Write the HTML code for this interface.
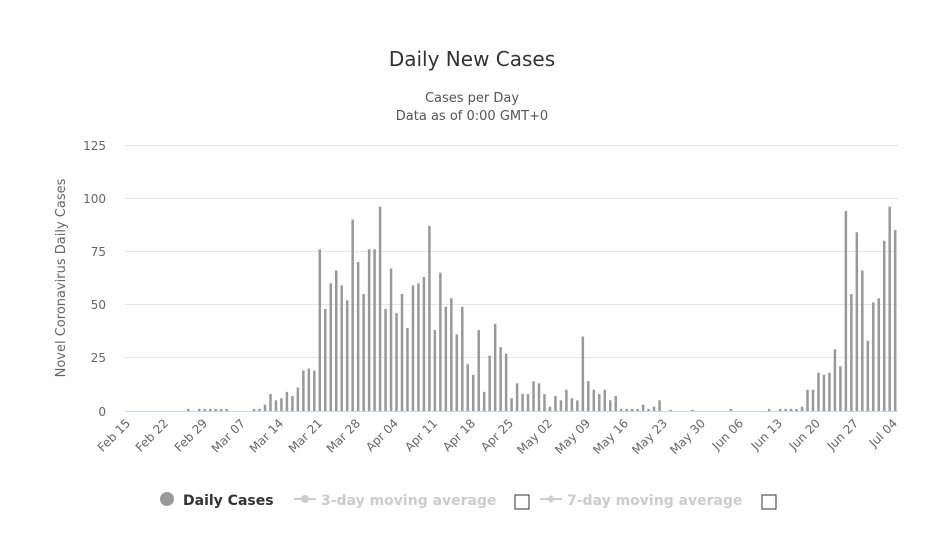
<!DOCTYPE html>
<html><head><meta charset="utf-8"><style>
body{margin:0;background:#fff;font-family:"Liberation Sans","DejaVu Sans",sans-serif;overflow:hidden;}
svg text{font-family:"DejaVu Sans","Liberation Sans",sans-serif;}
</style></head><body>
<svg id="s" width="930" height="529" xmlns="http://www.w3.org/2000/svg">
<rect width="930" height="529" fill="#fff"/>
<text x="472" y="66" text-anchor="middle" font-size="20" fill="#333">Daily New Cases</text>
<text x="472" y="102" text-anchor="middle" font-size="13" fill="#555">Cases per Day</text>
<text x="472" y="120" text-anchor="middle" font-size="13" fill="#555">Data as of 0:00 GMT+0</text>
<g stroke="#e6e6e6" stroke-width="1">
<line x1="125" x2="898" y1="145.5" y2="145.5"/>
<line x1="125" x2="898" y1="198.5" y2="198.5"/>
<line x1="125" x2="898" y1="251.5" y2="251.5"/>
<line x1="125" x2="898" y1="304.5" y2="304.5"/>
<line x1="125" x2="898" y1="357.5" y2="357.5"/>
</g>
<line x1="125" x2="898" y1="411.5" y2="411.5" stroke="#ccd6eb"/>
<g font-size="12" fill="#666" text-anchor="end">
<text x="106" y="150">125</text><text x="106" y="203">100</text><text x="106" y="256">75</text>
<text x="106" y="309">50</text><text x="106" y="362">25</text><text x="106" y="416">0</text>
</g>
<text transform="translate(65,278) rotate(-90)" text-anchor="middle" font-size="13" fill="#666">Novel Coronavirus Daily Cases</text>
<g id="bars" fill="#999"></g>
<g font-size="12" fill="#666" text-anchor="end">
<text transform="translate(131,424) rotate(-45)">Feb 15</text>
<text transform="translate(169,424) rotate(-45)">Feb 22</text>
<text transform="translate(208,424) rotate(-45)">Feb 29</text>
<text transform="translate(246,424) rotate(-45)">Mar 07</text>
<text transform="translate(284,424) rotate(-45)">Mar 14</text>
<text transform="translate(323,424) rotate(-45)">Mar 21</text>
<text transform="translate(361,424) rotate(-45)">Mar 28</text>
<text transform="translate(399,424) rotate(-45)">Apr 04</text>
<text transform="translate(438,424) rotate(-45)">Apr 11</text>
<text transform="translate(476,424) rotate(-45)">Apr 18</text>
<text transform="translate(514,424) rotate(-45)">Apr 25</text>
<text transform="translate(553,424) rotate(-45)">May 02</text>
<text transform="translate(591,424) rotate(-45)">May 09</text>
<text transform="translate(629,424) rotate(-45)">May 16</text>
<text transform="translate(668,424) rotate(-45)">May 23</text>
<text transform="translate(706,424) rotate(-45)">May 30</text>
<text transform="translate(744,424) rotate(-45)">Jun 06</text>
<text transform="translate(783,424) rotate(-45)">Jun 13</text>
<text transform="translate(821,424) rotate(-45)">Jun 20</text>
<text transform="translate(859,424) rotate(-45)">Jun 27</text>
<text transform="translate(898,424) rotate(-45)">Jul 04</text>
</g>
<circle cx="167" cy="499" r="7" fill="#999"/>
<text x="183" y="505" font-size="14" font-weight="bold" fill="#333">Daily Cases</text>
<line x1="294" x2="316" y1="499" y2="499" stroke="#ccc" stroke-width="2"/>
<circle cx="305" cy="499" r="4" fill="#ccc"/>
<text x="321" y="505" font-size="14" font-weight="bold" fill="#ccc">3-day moving average</text>
<rect x="515" y="495" width="14" height="14" fill="#fff" stroke="#333"/>
<line x1="540" x2="562" y1="499" y2="499" stroke="#ccc" stroke-width="2"/>
<path d="M551 495 L555 499 L551 503 L547 499Z" fill="#ccc"/>
<text x="567" y="505" font-size="14" font-weight="bold" fill="#ccc">7-day moving average</text>
<rect x="762" y="495" width="14" height="14" fill="#fff" stroke="#333"/>
</svg>
<script>
var v=[0,0,0,0,0,0,0,0,0,0,0,1,0,1,1,1,1,1,1,0,0,0,0,1,1,3,8,5,6,9,7,11,19,20,19,76,48,60,66,59,52,90,70,55,76,76,96,48,67,46,55,39,59,60,63,87,38,65,49,53,36,49,22,17,38,9,26,41,30,27,6,13,8,8,14,13,8,2,7,5,10,6,5,35,14,10,8,10,5,7,1,1,1,1,3,1,2,5,0,0.5,0,0,0,0.5,0,0,0,0,0,0,1,0,0,0,0,0,0,1,0,1,1,1,1,2,10,10,18,17,18,29,21,94,55,84,66,33,51,53,80,96,85];
var g=document.getElementById('bars'),s='';
for(var i=0;i<v.length;i++){if(!v[i])continue;var h=v[i]*2.128;s+='<rect x="'+(128+5.48*i-1.25).toFixed(2)+'" y="'+(411-h).toFixed(2)+'" width="2.5" height="'+h.toFixed(2)+'"/>';}
g.innerHTML=s;
</script>
</body></html>
